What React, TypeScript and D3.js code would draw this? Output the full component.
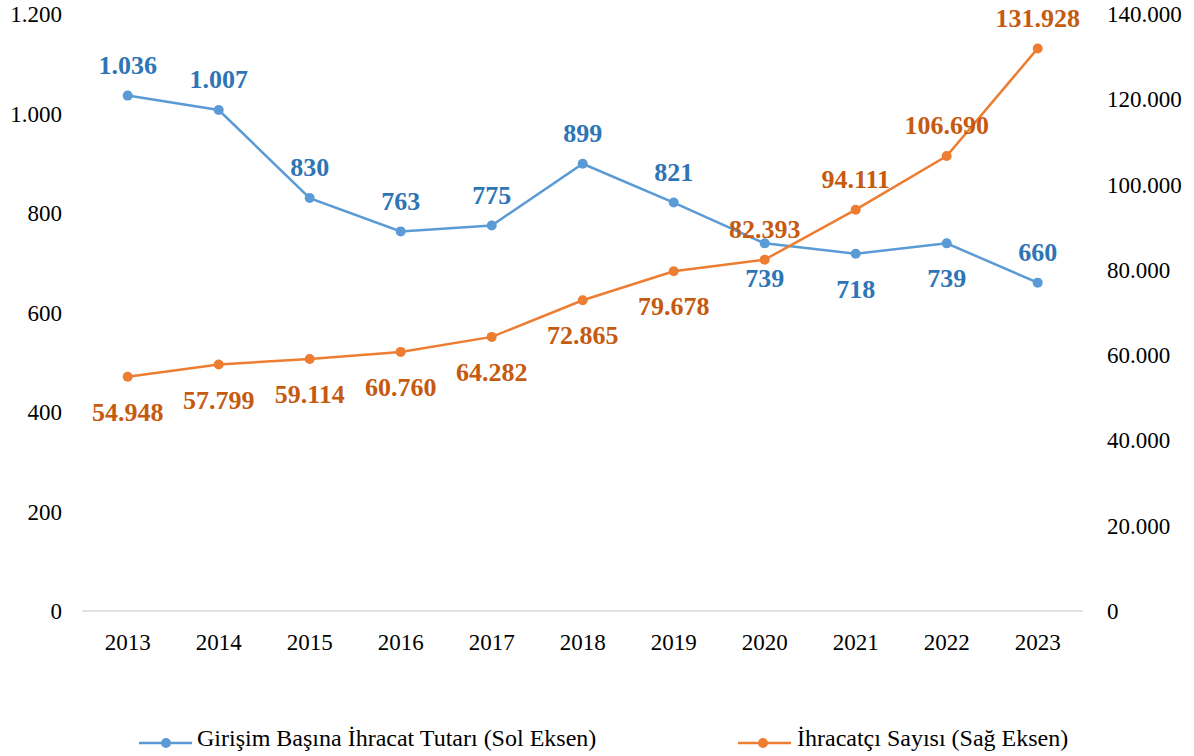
import React from "react";
import * as d3 from "d3";

const years = ["2013", "2014", "2015", "2016", "2017", "2018", "2019", "2020", "2021", "2022", "2023"];
const perFirmExport = [1036, 1007, 830, 763, 775, 899, 821, 739, 718, 739, 660];
const exporterCount = [54948, 57799, 59114, 60760, 64282, 72865, 79678, 82393, 94111, 106690, 131928];
// label placement: true = above point
const perFirmAbove = [true, true, true, true, true, true, true, false, false, false, true];
const countAbove = [false, false, false, false, false, false, false, true, true, true, true];
const leftTicks = [0, 200, 400, 600, 800, 1000, 1200];
const rightTicks = [0, 20000, 40000, 60000, 80000, 100000, 120000, 140000];
const seriesNames = ["Girişim Başına İhracat Tutarı (Sol Eksen)", "İhracatçı Sayısı (Sağ Eksen)"];

const trLocale = d3.formatLocale({ decimal: ",", thousands: ".", grouping: [3], currency: ["", "₺"] });
const fmt = trLocale.format(",d");

const W = 1194;
const H = 756;
const FONT = "Liberation Serif, Times New Roman, serif";
const BLUE = "#5b9bd5";
const BLUE_DARK = "#2e75b6";
const ORANGE = "#ed7d31";
const ORANGE_DARK = "#c55a11";

export default function App() {
  const x = d3.scalePoint<string>().domain(years).range([82.2, 1083.2]).padding(0.5);
  const yL = d3.scaleLinear().domain([0, 1200]).range([611, 14]);
  const yR = d3.scaleLinear().domain([0, 140000]).range([611, 14]);

  const lineL = d3.line<number>().x((_, i) => x(years[i])!).y((d) => yL(d));
  const lineR = d3.line<number>().x((_, i) => x(years[i])!).y((d) => yR(d));

  return (
    <svg width={W} height={H} style={{ position: "absolute", left: 0, top: 0, background: "#fff", fontFamily: FONT }}>
      <rect width={W} height={H} fill="#fff" />
      <line x1={82.2} x2={1083.2} y1={yL(0)} y2={yL(0)} stroke="#d9d9d9" strokeWidth={1.5} />
      {leftTicks.map((t) => (
        <text key={"l" + t} x={62} y={yL(t)} dy="0.35em" textAnchor="end" fontSize={23} fontFamily={FONT} fill="#000">
          {fmt(t)}
        </text>
      ))}
      {rightTicks.map((t) => (
        <text key={"r" + t} x={1107} y={yR(t)} dy="0.35em" textAnchor="start" fontSize={23} fontFamily={FONT} fill="#000">
          {fmt(t)}
        </text>
      ))}
      {years.map((yr) => (
        <text key={"x" + yr} x={x(yr)} y={650} textAnchor="middle" fontSize={23} fontFamily={FONT} fill="#000">
          {yr}
        </text>
      ))}
      <path d={lineL(perFirmExport)!} fill="none" stroke={BLUE} strokeWidth={2.5} />
      <path d={lineR(exporterCount)!} fill="none" stroke={ORANGE} strokeWidth={2.5} />
      {perFirmExport.map((v, i) => (
        <circle key={"cb" + i} cx={x(years[i])} cy={yL(v)} r={5} fill={BLUE} />
      ))}
      {exporterCount.map((v, i) => (
        <circle key={"co" + i} cx={x(years[i])} cy={yR(v)} r={5} fill={ORANGE} />
      ))}
      {perFirmExport.map((v, i) => (
        <text
          key={"tb" + i}
          x={x(years[i])}
          y={yL(v) + (perFirmAbove[i] ? -31 : 35)}
          dy="0.35em"
          textAnchor="middle"
          fontSize={26}
          fontWeight="bold"
          fontFamily={FONT}
          fill={BLUE_DARK}
        >
          {fmt(v)}
        </text>
      ))}
      {exporterCount.map((v, i) => (
        <text
          key={"to" + i}
          x={x(years[i])}
          y={yR(v) + (countAbove[i] ? -31 : 35)}
          dy="0.35em"
          textAnchor="middle"
          fontSize={26}
          fontWeight="bold"
          fontFamily={FONT}
          fill={ORANGE_DARK}
        >
          {fmt(v)}
        </text>
      ))}
      <g>
        <line x1={139} x2={192} y1={743} y2={743} stroke={BLUE} strokeWidth={2.5} />
        <circle cx={166} cy={743} r={5} fill={BLUE} />
        <text x={197} y={746} fontSize={24} fontFamily={FONT} fill="#000">{seriesNames[0]}</text>
        <line x1={738} x2={791} y1={743} y2={743} stroke={ORANGE} strokeWidth={2.5} />
        <circle cx={763} cy={743} r={5} fill={ORANGE} />
        <text x={797} y={746} fontSize={24} fontFamily={FONT} fill="#000">{seriesNames[1]}</text>
      </g>
    </svg>
  );
}
